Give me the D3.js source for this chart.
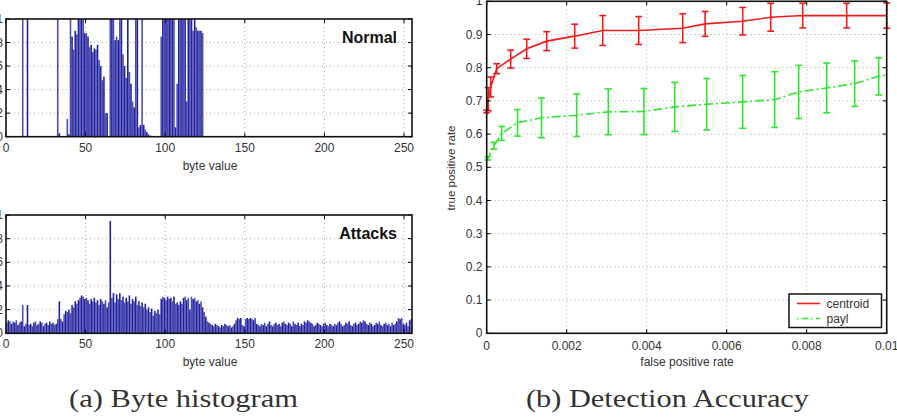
<!DOCTYPE html>
<html><head><meta charset="utf-8">
<script src="https://cdn.jsdelivr.net/npm/d3@7"></script>
<style>body{margin:0;background:#fff}svg{display:block}</style>
</head><body>
<svg id="c" width="897" height="418"></svg>
<script>
// ---------- DATA ----------
const histXTicks = [0, 50, 100, 150, 200, 250];
const histYTicks = [0, 0.02, 0.04, 0.06, 0.08, 0.1];
const histYLabels = ["0", "0.02", "0.04", "0.06", "0.08", "0.1"];

// Normal traffic: byte values that occur and their frequency
const normalBytes = [10,13,32,33,38,39,40,41,42,43,44,45,46,47,48,49,50,51,52,53,54,55,56,57,58,59,60,61,62,63,65,66,67,68,69,70,71,72,73,74,75,76,77,78,79,80,81,82,83,84,85,86,87,88,89,90,
  97,98,99,100,101,102,103,104,105,106,107,108,109,110,111,112,113,114,115,116,117,118,119,120,121,122,123];
const normalFreq = [.12,.12,.12,.003,.015,.002,.12,.085,.074,.09,.087,.12,.12,.12,.12,.088,.088,.085,.076,.078,.072,.075,.074,.078,.065,.06,.048,.051,.02,.02,.12,.1,.12,.082,.085,.082,.12,.12,.07,.06,.05,.12,.055,.045,.03,.025,.12,.12,.008,.01,.12,.01,.006,.004,.002,.001,
  .085,.12,.12,.12,.12,.12,.12,.12,.12,.008,.045,.12,.12,.12,.12,.12,.03,.12,.12,.12,.09,.12,.093,.09,.09,.09,.088];

// Attack traffic: frequency of each byte value 0..255
const attackFreq = [
  .009,.011,.010,.008,.010,.009,.011,.007,.009,.010,
  .024,.006,.008,.024,.007,
  .008,.006,.009,.010,.007,.008,.010,.009,.006,.008,.009,.007,.010,.008,.009,.007,.008,
  .012,.027,.012,.010,.016,.019,.018,.020,.017,
  .024,.022,.027,.025,.028,.030,.032,.031,.029,.030,
  .028,.025,.029,.027,.030,.026,.028,.024,.029,.027,
  .025,.028,.022,.026,.095,.030,.034,.026,.033,.029,
  .034,.028,.031,.026,.030,.027,.032,.025,.029,.027,
  .031,.024,.027,.023,.026,.022,.025,.020,.022,.018,
  .021,.015,.019,.017,.020,.016,.029,.031,.030,.028,
  .031,.029,.030,.027,.031,.025,.026,.024,.027,.025,
  .030,.031,.028,.030,.020,.031,.029,.030,.027,.028,
  .025,.027,.022,.018,.014,.010,.009,
  .008,.007,.006,.008,.007,.006,.005,.007,.006,.008,.007,.006,.007,.005,.006,.008,
  .011,.013,.012,.013,.007,.006,.012,.013,.012,.013,.012,.011,.013,.008,.007,.006,
  .008,.007,.009,.006,.008,.010,.007,.006,.008,.009,.007,.008,.006,.009,.010,.008,
  .007,.009,.008,.006,.010,.008,.007,.009,.006,.008,.007,.010,.009,.011,.010,.009,
  .008,.006,.007,.009,.008,.007,.006,.008,.009,.007,.006,.008,.007,.006,.008,.007,
  .009,.010,.008,.006,.007,.009,.008,.010,.007,.006,.008,.009,.007,.008,.010,.009,
  .011,.010,.008,.007,.009,.008,.006,.007,.009,.008,.010,.007,.006,.008,.009,.007,
  .008,.006,.009,.007,.008,.010,.013,.012,.013,.008,.007,.009,.006,.011,.012,.010
];

const rocXTicks = [0, 0.002, 0.004, 0.006, 0.008, 0.01];
const rocXLabels = ["0", "0.002", "0.004", "0.006", "0.008", "0.01"];
const rocYTicks = [0, 0.1, 0.2, 0.3, 0.4, 0.5, 0.6, 0.7, 0.8, 0.9, 1];
const rocYLabels = ["0", "0.1", "0.2", "0.3", "0.4", "0.5", "0.6", "0.7", "0.8", "0.9", "1"];

const centroidFpr = [0, 0.00004, 0.0001, 0.00025, 0.0006, 0.001, 0.0015, 0.0022, 0.0029, 0.0038, 0.0049, 0.00546, 0.0064, 0.0071, 0.0079, 0.009, 0.01];
const centroidTpr = [0.668, 0.705, 0.742, 0.797, 0.826, 0.857, 0.880, 0.895, 0.912, 0.912, 0.919, 0.932, 0.940, 0.952, 0.957, 0.957, 0.957];
const centroidErr = [0.004, 0.035, 0.03, 0.015, 0.027, 0.029, 0.0285, 0.036, 0.045, 0.042, 0.0435, 0.0375, 0.0415, 0.042, 0.037, 0.037, 0.038];

const paylFpr = [0, 0.00003, 0.00018, 0.000375, 0.00077, 0.00137, 0.00225, 0.00304, 0.00393, 0.0047, 0.0055, 0.0064, 0.0072, 0.0078, 0.0085, 0.0092, 0.0098, 0.01];
const paylTpr = [0.52, 0.527, 0.565, 0.602, 0.634, 0.649, 0.657, 0.667, 0.668, 0.682, 0.690, 0.697, 0.704, 0.727, 0.739, 0.752, 0.774, 0.778];
const paylErr = [0, 0.005, 0.01, 0.021, 0.04, 0.06, 0.064, 0.069, 0.0695, 0.074, 0.0775, 0.0795, 0.084, 0.08, 0.075, 0.0685, 0.056, 0];

const seriesNames = ["centroid", "payl"];
const captions = ["(a) Byte histogram", "(b) Detection Accuracy"];
const panelLabels = ["Normal", "Attacks"];

// ---------- DRAW ----------
const svg = d3.select("#c");
const SANS = "'Liberation Sans', Arial, sans-serif";
const BAR = "#22229f";

function frame(g, x, y, xt, yt) {
  const [x0, x1] = x.range(), [y1, y0] = y.range();
  g.selectAll(".gx").data(xt.filter(t => t > x.domain()[0] && t < x.domain()[1])).join("line")
    .attr("x1", d => x(d)).attr("x2", d => x(d)).attr("y1", y0).attr("y2", y1)
    .attr("stroke", "#a8a8a8").attr("stroke-width", 1).attr("stroke-dasharray", "1,3");
  g.selectAll(".gy").data(yt.filter(t => t > y.domain()[0] && t < y.domain()[1])).join("line")
    .attr("y1", d => y(d)).attr("y2", d => y(d)).attr("x1", x0).attr("x2", x1)
    .attr("stroke", "#a8a8a8").attr("stroke-width", 1).attr("stroke-dasharray", "1,3");
}
function border(g, x, y, xt, yt) {
  const [x0, x1] = x.range(), [y1, y0] = y.range();
  const tl = 4;
  xt.forEach(t => {
    g.append("line").attr("x1", x(t)).attr("x2", x(t)).attr("y1", y1).attr("y2", y1 - tl).attr("stroke", "#000");
    g.append("line").attr("x1", x(t)).attr("x2", x(t)).attr("y1", y0).attr("y2", y0 + tl).attr("stroke", "#000");
  });
  yt.forEach(t => {
    g.append("line").attr("y1", y(t)).attr("y2", y(t)).attr("x1", x0).attr("x2", x0 + tl).attr("stroke", "#000");
    g.append("line").attr("y1", y(t)).attr("y2", y(t)).attr("x1", x1).attr("x2", x1 - tl).attr("stroke", "#000");
  });
  g.append("rect").attr("x", x0).attr("y", y0).attr("width", x1 - x0).attr("height", y1 - y0)
    .attr("fill", "none").attr("stroke", "#111").attr("stroke-width", 1.6);
}

function histPanel(top, bottom, bytes, freqs, label, id) {
  const g = svg.append("g");
  const x = d3.scaleLinear().domain([0, 255]).range([6, 412]);
  const y = d3.scaleLinear().domain([0, 0.1]).range([bottom, top]);
  svg.append("defs").append("clipPath").attr("id", id)
    .append("rect").attr("x", 6).attr("y", top).attr("width", 406).attr("height", bottom - top);
  frame(g, x, y, histXTicks, histYTicks);
  const bw = (x(1) - x(0)) * 1.0;
  g.append("g").attr("clip-path", `url(#${id})`)
    .selectAll("rect").data(bytes.map((b, i) => [b, freqs[i]])).join("rect")
    .attr("x", d => x(d[0] + 0.5) - bw / 2).attr("width", bw)
    .attr("y", d => y(d[1])).attr("height", d => y(0) - y(d[1]))
    .attr("fill", BAR).attr("fill-opacity", (d, i) => 0.8 + 0.2 * (i % 2));
  border(g, x, y, histXTicks, histYTicks);
  g.selectAll(".xl").data(histXTicks).join("text")
    .attr("x", d => x(d)).attr("y", bottom + 15).attr("text-anchor", "middle")
    .attr("font-family", SANS).attr("font-size", 12).attr("fill", "#333").text(d => d);
  g.selectAll(".yl").data(histYTicks).join("text")
    .attr("x", 3).attr("y", d => y(d) + 4).attr("text-anchor", "end")
    .attr("font-family", SANS).attr("font-size", 12).attr("fill", "#333").text((d, i) => histYLabels[i]);
  g.append("text").attr("x", (x(0) + x(255)) / 2 + 1).attr("y", bottom + 33).attr("text-anchor", "middle")
    .attr("font-family", SANS).attr("font-size", 12).attr("fill", "#333").text("byte value");
  g.append("text").attr("x", 397).attr("y", top + 24).attr("text-anchor", "end")
    .attr("font-family", SANS).attr("font-weight", "bold").attr("font-size", 16).attr("fill", "#111").text(label);
}

histPanel(19, 136.7, normalBytes, normalFreq, panelLabels[0], "cn");
histPanel(215, 333.3, d3.range(256), attackFreq, panelLabels[1], "ca");

// ROC panel
(function () {
  const g = svg.append("g");
  const x = d3.scaleLinear().domain([0, 0.01]).range([486.7, 886.7]);
  const y = d3.scaleLinear().domain([0, 1]).range([333.3, 1.3]);
  frame(g, x, y, rocXTicks, rocYTicks);
  const series = [
    {fpr: centroidFpr, tpr: centroidTpr, err: centroidErr, color: "#f01c1c", dash: null},
    {fpr: paylFpr, tpr: paylTpr, err: paylErr, color: "#2ee62e", dash: "9,3,2,3"}
  ];
  series.forEach(s => {
    const pts = s.fpr.map((f, i) => ({f, t: s.tpr[i], e: s.err[i]}));
    g.append("path").datum(pts)
      .attr("d", d3.line().x(d => x(d.f)).y(d => y(d.t)))
      .attr("fill", "none").attr("stroke", s.color).attr("stroke-width", 1.6)
      .attr("stroke-dasharray", s.dash);
    const eb = g.append("g").attr("stroke", s.color).attr("stroke-width", 1.6);
    pts.filter(d => d.e > 0).forEach(d => {
      const cx = x(d.f), cw = 3.4;
      eb.append("line").attr("x1", cx).attr("x2", cx).attr("y1", y(d.t - d.e)).attr("y2", y(d.t + d.e));
      eb.append("line").attr("x1", cx - cw).attr("x2", cx + cw).attr("y1", y(d.t - d.e)).attr("y2", y(d.t - d.e));
      eb.append("line").attr("x1", cx - cw).attr("x2", cx + cw).attr("y1", y(d.t + d.e)).attr("y2", y(d.t + d.e));
    });
  });
  border(g, x, y, rocXTicks, rocYTicks);
  g.selectAll(".xl").data(rocXTicks).join("text")
    .attr("x", d => x(d)).attr("y", 350).attr("text-anchor", "middle")
    .attr("font-family", SANS).attr("font-size", 12).attr("fill", "#333").text((d, i) => rocXLabels[i]);
  g.selectAll(".yl").data(rocYTicks).join("text")
    .attr("x", 482.5).attr("y", d => y(d) + 4).attr("text-anchor", "end")
    .attr("font-family", SANS).attr("font-size", 12).attr("fill", "#333").text((d, i) => rocYLabels[i]);
  g.append("text").attr("x", 687).attr("y", 366).attr("text-anchor", "middle")
    .attr("font-family", SANS).attr("font-size", 12).attr("fill", "#333").text("false positive rate");
  g.append("text").attr("transform", "translate(455,168) rotate(-90)").attr("text-anchor", "middle")
    .attr("font-family", SANS).attr("font-size", 11.5).attr("fill", "#333").text("true positive rate");
  const lg = g.append("g");
  lg.append("rect").attr("x", 789).attr("y", 294).attr("width", 92.5).attr("height", 33.5)
    .attr("fill", "#fff").attr("stroke", "#111").attr("stroke-width", 1.5);
  series.forEach((s, i) => {
    const ly = 303.5 + i * 15;
    lg.append("line").attr("x1", 797).attr("x2", 820).attr("y1", ly).attr("y2", ly)
      .attr("stroke", s.color).attr("stroke-width", 1.6).attr("stroke-dasharray", s.dash ? "1.5,3,7,3" : null);
    lg.append("text").attr("x", 826.5).attr("y", ly + 4.2).attr("font-family", SANS).attr("font-size", 12)
      .attr("fill", "#333").text(seriesNames[i]);
  });
})();

// captions
const capX = [[69, 298], [526, 809]];
captions.forEach((c, i) => {
  svg.append("text").attr("x", capX[i][0]).attr("y", 406.5)
    .attr("font-family", "'Liberation Serif', serif").attr("font-size", 25)
    .attr("fill", "#333").attr("textLength", capX[i][1] - capX[i][0]).attr("lengthAdjust", "spacingAndGlyphs")
    .text(c);
});
</script>
</body></html>
